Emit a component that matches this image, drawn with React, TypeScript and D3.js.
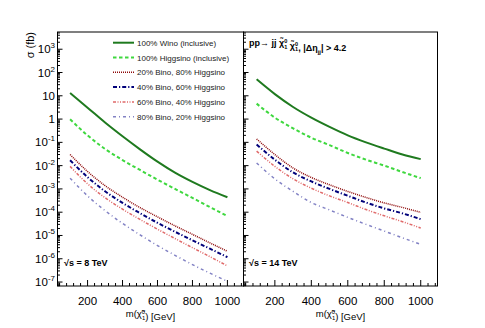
import React from "react";
import * as d3 from "d3";

const W = 485;
const H = 328;

// neutralino mass points [GeV]
const masses = [100, 200, 300, 400, 500, 600, 700, 800, 900, 1000];

// sqrt(s) = 8 TeV, sigma in fb
const wino8 = [13.1, 3.09, 0.71, 0.182, 0.05, 0.0148, 5.0e-3, 2.0e-3, 8.9e-4, 4.4e-4];
const higgsino8 = [0.98, 0.2, 0.052, 0.0174, 6.5e-3, 2.5e-3, 1.0e-3, 4.1e-4, 1.66e-4, 6.8e-5];
const bino20_8 = [0.03, 5.6e-3, 1.38e-3, 4.4e-4, 1.58e-4, 6.3e-5, 2.6e-5, 1.12e-5, 4.8e-6, 2.1e-6];
const bino40_8 = [0.017, 3.2e-3, 7.9e-4, 2.5e-4, 9.1e-5, 3.5e-5, 1.45e-5, 6.2e-6, 2.7e-6, 1.17e-6];
const bino60_8 = [9.3e-3, 1.66e-3, 4.2e-4, 1.35e-4, 4.9e-5, 1.86e-5, 7.4e-6, 3.0e-6, 1.23e-6, 4.9e-7];
const bino80_8 = [2.9e-3, 5.0e-4, 1.17e-4, 3.3e-5, 1.07e-5, 3.7e-6, 1.41e-6, 5.6e-7, 2.4e-7, 1.07e-7];

// sqrt(s) = 14 TeV
const wino14 = [51, 11.8, 3.3, 1.15, 0.46, 0.2, 0.1, 0.054, 0.03, 0.019];
const higgsino14 = [4.6, 1.15, 0.4, 0.158, 0.076, 0.035, 0.018, 0.01, 5.3e-3, 2.9e-3];
const bino20_14 = [0.14, 0.03, 7.9e-3, 3.1e-3, 1.5e-3, 7.8e-4, 4.3e-4, 2.5e-4, 1.6e-4, 9.8e-5];
const bino40_14 = [0.081, 0.018, 5.1e-3, 2.1e-3, 1.0e-3, 5.1e-4, 2.6e-4, 1.45e-4, 8.9e-5, 5.0e-5];
const bino60_14 = [0.042, 9.3e-3, 2.7e-3, 1.07e-3, 5.0e-4, 2.6e-4, 1.3e-4, 7.0e-5, 3.9e-5, 2.1e-5];
const bino80_14 = [0.013, 2.7e-3, 7.8e-4, 2.6e-4, 1.25e-4, 6.0e-5, 3.0e-5, 1.55e-5, 7.9e-6, 4.2e-6];

const legendLabels = [
  "100% Wino (inclusive)",
  "100% Higgsino (inclusive)",
  "20% Bino, 80% Higgsino",
  "40% Bino, 60% Higgsino",
  "60% Bino, 40% Higgsino",
  "80% Bino, 20% Higgsino",
];

const xTicks = [200, 400, 600, 800, 1000];
const yExps = [-7, -6, -5, -4, -3, -2, -1, 0, 1, 2, 3];

const styles = [
  { color: "#1f7a1f", width: 2, dash: "" },
  { color: "#3fd83f", width: 2, dash: "3.5,2.5" },
  { color: "#8e0a0a", width: 1.5, dash: "1,1" },
  { color: "#00007a", width: 2, dash: "4,2,1.2,2" },
  { color: "#e06a6a", width: 1.5, dash: "3,1.5,1,1.5,1,1.5" },
  { color: "#8282c4", width: 1.5, dash: "3,3,1,3" },
];

const top = 32;
const bottom = 286;
const y = d3.scaleLog().domain([Math.pow(10, -7.17), Math.pow(10, 3.74)]).range([bottom, top]);
const xDomain: [number, number] = [28, 1092];
const xLeft = d3.scaleLinear().domain(xDomain).range([57.5, 243.5]);
const xRight = d3.scaleLinear().domain(xDomain).range([243.5, 437.5]);

const minorX = d3.range(40, 1092, 40).filter((v) => v % 200 !== 0);
const minorY: number[] = [];
for (let e = -8; e <= 3; e++) {
  for (let k = 2; k <= 9; k++) {
    const v = k * Math.pow(10, e);
    if (v > y.domain()[0] && v < y.domain()[1]) minorY.push(v);
  }
}

const font = "'Liberation Sans', Arial, Helvetica, sans-serif";

// chi~ with stacked 1 (sub) and 0 (sup)
const Chi = ({ size }: { size: number }) => (
  <>
    <tspan>χ̃</tspan>
    <tspan dy={-size * 0.35} fontSize={size * 0.62}>0</tspan>
    <tspan dx={-size * 0.34} dy={size * 0.65} fontSize={size * 0.62}>1</tspan>
    <tspan dy={-size * 0.3}></tspan>
  </>
);

const Panel = ({ x, series, id, labels }: { x: d3.ScaleLinear<number, number>; series: number[][]; id: string; labels: boolean }) => {
  const [x0, x1] = x.range();
  const line = d3
    .line<number>()
    .x((_, i) => x(masses[i]))
    .y((d) => y(d))
    .curve(d3.curveMonotoneX);
  return (
    <g>
      <clipPath id={id}>
        <rect x={x0} y={top} width={x1 - x0} height={bottom - top} />
      </clipPath>
      <g clipPath={`url(#${id})`}>
        {series.map((s, i) => (
          <path
            key={i}
            d={line(s) || ""}
            fill="none"
            stroke={styles[i].color}
            strokeWidth={styles[i].width}
            strokeDasharray={styles[i].dash}
          />
        ))}
      </g>
      {xTicks.map((t) => (
        <line key={t} x1={x(t)} x2={x(t)} y1={bottom} y2={bottom - 6} stroke="#000" />
      ))}
      {minorX.map((t) => (
        <line key={t} x1={x(t)} x2={x(t)} y1={bottom} y2={bottom - 3} stroke="#000" />
      ))}
      {xTicks.map((t) => (
        <text key={t} x={x(t)} y={305} textAnchor="middle" fontSize={11.5} fontFamily={font}>
          {t}
        </text>
      ))}
      {yExps.map((e) => (
        <line key={e} x1={x0} x2={x0 + 5} y1={y(Math.pow(10, e))} y2={y(Math.pow(10, e))} stroke="#000" />
      ))}
      {minorY.map((v, i) => (
        <line key={i} x1={x0} x2={x0 + 2.5} y1={y(v)} y2={y(v)} stroke="#000" />
      ))}
      {labels &&
        yExps.map((e) => (
          <text key={e} x={55} y={y(Math.pow(10, e)) + 4} textAnchor="end" fontSize={11.5} fontFamily={font}>
            {e === 0 ? "1" : e === 1 ? "10" : (
              <>
                10
                <tspan dy={-5} fontSize={8}>{e}</tspan>
              </>
            )}
          </text>
        ))}
      <rect x={x0} y={top} width={x1 - x0} height={bottom - top} fill="none" stroke="#000" strokeWidth={1} />
      <text x={(x0 + x1) / 2} y={317} textAnchor="middle" fontSize={9.5} fontFamily={font}>
        <tspan>m(</tspan>
        <Chi size={9.5} />
        <tspan>) [GeV]</tspan>
      </text>
    </g>
  );
};

export default function App() {
  const left = [wino8, higgsino8, bino20_8, bino40_8, bino60_8, bino80_8];
  const right = [wino14, higgsino14, bino20_14, bino40_14, bino60_14, bino80_14];
  return (
    <svg width={W} height={H} style={{ position: "absolute", left: 0, top: 0, background: "#fff" }}>
      <rect width={W} height={H} fill="#fff" />
      <Panel x={xLeft} series={left} id="clipL" labels={true} />
      <Panel x={xRight} series={right} id="clipR" labels={false} />
      <text transform="translate(34,32) rotate(-90)" textAnchor="end" fontSize={11} fontFamily={font}>
        σ (fb)
      </text>
      {legendLabels.map((lab, i) => {
        const ly = 42.7 + i * 14.8;
        return (
          <g key={lab}>
            <line
              x1={113}
              x2={134}
              y1={ly}
              y2={ly}
              stroke={styles[i].color}
              strokeWidth={styles[i].width}
              strokeDasharray={styles[i].dash}
            />
            <text x={137} y={ly + 3} fontSize={8} fill="#222" fontFamily={font}>
              {lab}
            </text>
          </g>
        );
      })}
      <text x={64} y={266} fontSize={9} fontWeight="bold" fontFamily={font}>
        √s = 8 TeV
      </text>
      <text x={249} y={266} fontSize={9} fontWeight="bold" fontFamily={font}>
        √s = 14 TeV
      </text>
      <text x={249} y={46} fontSize={9} fontWeight="bold" fontFamily={font}>
        <tspan>pp→ jj </tspan>
        <Chi size={9} />
        <tspan> </tspan>
        <Chi size={9} />
        <tspan>, |Δη</tspan>
        <tspan dy={3} fontSize={6}>jj</tspan>
        <tspan dy={-3}>| &gt; 4.2</tspan>
      </text>
    </svg>
  );
}
